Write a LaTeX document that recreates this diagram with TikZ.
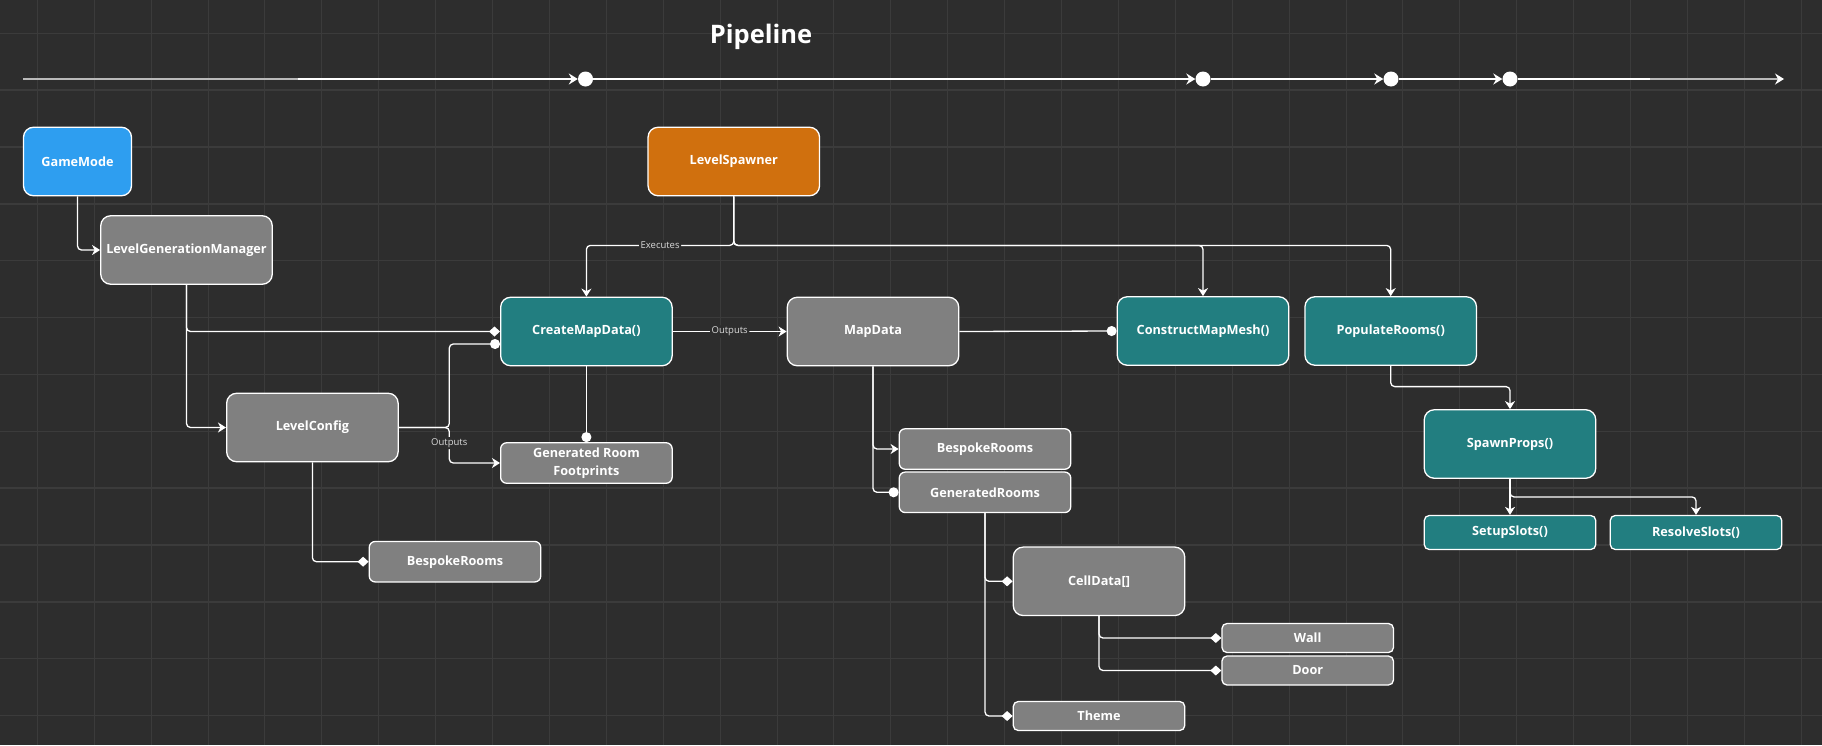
\documentclass[tikz,border=0pt]{standalone}
\usepackage{fontspec}
\setmainfont{Open Sans}
\usetikzlibrary{arrows.meta}
\usetikzlibrary{positioning}
\definecolor{CanvasGrey}{HTML}{2D2D2D}
\definecolor{GridGrey}{HTML}{3B3B3B}
\definecolor{ModeBlue}{HTML}{2E9EF0}
\definecolor{SpawnOrange}{HTML}{D0700E}
\definecolor{FuncTeal}{HTML}{227E80}
\definecolor{DataGrey}{HTML}{808080}
\definecolor{FadeGrey}{HTML}{B9B9B9}

\begin{document}
\begin{tikzpicture}[x=1pt, y=-1pt,
  box/.style={draw=white, line width=1.3pt, rounded corners=10pt, text=white,
    font=\bfseries\fontsize{12.7}{18}\selectfont, align=center, inner sep=2pt,
    minimum width=171.5pt, minimum height=68.5pt},
  flatbox/.style={box, rounded corners=6pt, minimum height=40.5pt},
  smallbox/.style={box, rounded corners=5pt, minimum height=29pt},
  conn/.style={white, line width=1.3pt, rounded corners=4pt},
  arrowend/.style={conn, -{Stealth[length=8pt, width=10pt, inset=2.5pt]}},
  diaend/.style={conn, -{Diamond[length=11pt, width=10pt]}},
  dotend/.style={conn, -{Circle[length=10pt]}},
  lbl/.style={fill=CanvasGrey, text=white!85!black, inner sep=1.5pt,
    font=\fontsize{9.5}{11}\selectfont},
  tline/.style={white, line width=1.8pt},
  tdot/.style={circle, fill=white, minimum size=15pt, inner sep=0pt}]

  \useasboundingbox (0,0) rectangle (1822,745);

  % canvas and grid
  \fill[CanvasGrey] (0,0) rectangle (1822,745);
  \foreach \i in {0,...,31}{%
    \draw[GridGrey, line width=1pt] (37.3+56.9*\i,0) -- (37.3+56.9*\i,745);
  }
  \foreach \j in {0,...,12}{%
    \draw[GridGrey, line width=1.4pt] (0,33.3+56.85*\j) -- (1822,33.3+56.85*\j);
  }

  % pipeline timeline
  \node[font=\bfseries\fontsize{25.5}{30}\selectfont, text=white] (title) at (761,37) {Pipeline};
  \coordinate (tstart)   at (23,79);
  \coordinate (tfadein)  at (298,79);
  \coordinate (tfadeout) at (1650,79);
  \coordinate (tend)     at (1784,79);
  \foreach \n/\x in {1/585.5,2/1203,3/1391,4/1510}{%
    \node[tdot] (t\n) at (\x,79) {};
  }
  \draw[tline, FadeGrey] (tstart) -- (tfadein);
  \draw[tline, -{Stealth[length=9pt, width=11pt, inset=3pt]}] (tfadein) -- (t1);
  \foreach \a/\b in {1/2,2/3,3/4}{%
    \draw[tline, -{Stealth[length=9pt, width=11pt, inset=3pt]}] (t\a) -- (t\b);
  }
  \draw[tline] (t4) -- (tfadeout);
  \draw[tline, FadeGrey, -{Stealth[length=9pt, width=11pt, inset=3pt, white]}] (tfadeout) -- (tend);

  % classes and calls
  \node[box, fill=ModeBlue, minimum width=108pt] (gamemode) at (77.5,161.5) {GameMode};
  \node[box, fill=SpawnOrange] (spawner) at (733.8,161.5) {LevelSpawner};
  \node[box, fill=DataGrey] (genmanager) at (186.5,250) {LevelGenerationManager};
  \node[box, fill=FuncTeal] (createmap) at (586.4,331.5) {CreateMapData()};
  \node[box, fill=DataGrey] (levelconfig) at (312.4,427.5) {LevelConfig};
  \node[flatbox, fill=DataGrey] (footprints) at (586.4,463) {Generated Room\\Footprints};
  \node[flatbox, fill=DataGrey] (configrooms) at (455,561.7) {BespokeRooms};
  \node[box, fill=DataGrey] (mapdata) at (873,331.5) {MapData};
  \node[box, fill=FuncTeal] (mapmesh) at (1203,331) {ConstructMapMesh()};
  \node[box, fill=FuncTeal] (populate) at (1390.7,331) {PopulateRooms()};
  \node[box, fill=FuncTeal] (spawnprops) at (1510,444) {SpawnProps()};
  \node[smallbox, fill=FuncTeal, minimum height=34pt] (setupslots) at (1510,532.5) {SetupSlots()};
  \node[smallbox, fill=FuncTeal, minimum height=34pt] (resolveslots) at (1696,532.5) {ResolveSlots()};
  \node[flatbox, fill=DataGrey] (bespoke) at (985,449) {BespokeRooms};
  \node[flatbox, fill=DataGrey] (generated) at (985,492.3) {GeneratedRooms};
  \node[box, fill=DataGrey] (celldata) at (1099,581.3) {CellData[]};
  \node[smallbox, fill=DataGrey] (wall) at (1307.7,638) {Wall};
  \node[smallbox, fill=DataGrey] (door) at (1307.7,670.5) {Door};
  \node[smallbox, fill=DataGrey] (theme) at (1099,716) {Theme};

  % connectors
  \draw[arrowend] (gamemode.south) |- (genmanager.west);
  \draw[diaend] (genmanager.south) |- (createmap.west);
  \draw[arrowend] (genmanager.south) |- (levelconfig.west);
  \draw[dotend] (levelconfig.east) -- ++(50.5,0) |- ([yshift=-12.5pt]createmap.west);
  \draw[arrowend] (levelconfig.east) -- ++(50.5,0) |- node[lbl, pos=0.22] {Outputs} (footprints.west);
  \draw[dotend] (createmap.south) -- (footprints.north);
  \draw[diaend] (levelconfig.south) |- (configrooms.west);
  \draw[arrowend] (spawner.south) -- ++(0,49) -| node[lbl, pos=0.25] {Executes} (createmap.north);
  \draw[arrowend] (spawner.south) -- ++(0,49) -| (mapmesh.north);
  \draw[arrowend] (spawner.south) -- ++(0,49) -| (populate.north);
  \draw[arrowend] (createmap.east) -- node[lbl] {Outputs} (mapdata.west);
  \draw[dotend] (mapdata.east) -- (mapmesh.west);
  \draw[arrowend] (mapdata.south) |- (bespoke.west);
  \draw[dotend] (mapdata.south) |- (generated.west);
  \draw[diaend] (generated.south) |- (celldata.west);
  \draw[diaend] (generated.south) |- (theme.west);
  \draw[diaend] (celldata.south) |- (wall.west);
  \draw[diaend] (celldata.south) |- (door.west);
  \draw[arrowend] (populate.south) -- ++(0,20.7) -| (spawnprops.north);
  \draw[arrowend] (spawnprops.south) -- (setupslots.north);
  \draw[arrowend] (spawnprops.south) -- ++(0,18) -| (resolveslots.north);
\end{tikzpicture}
\end{document}
